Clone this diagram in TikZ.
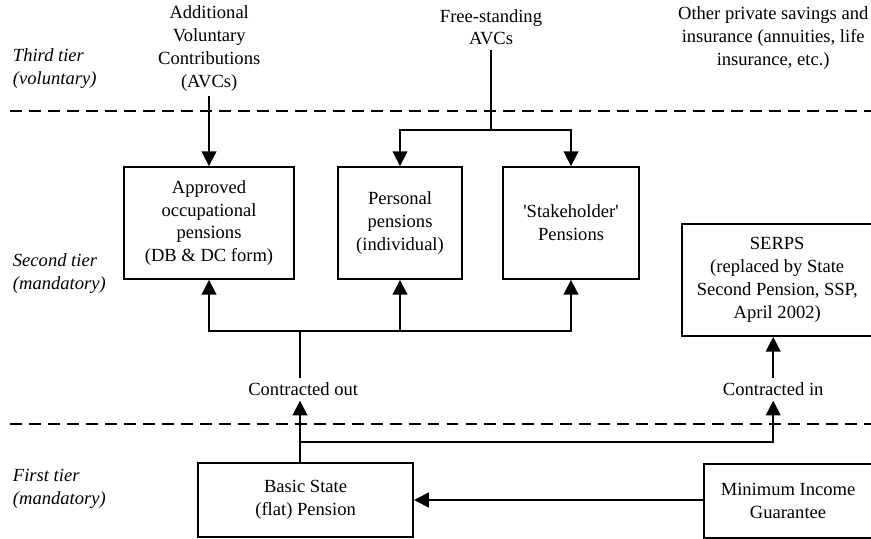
\documentclass[tikz,border=0pt]{standalone}
\usepackage{fontspec}
\setmainfont{Liberation Serif}
\usetikzlibrary{shapes,arrows.meta,positioning}

\tikzset{
    pbox/.style={draw, line width=1.3pt, align=center, inner sep=0pt},
    flow/.style={line width=1.3pt, -{Triangle[length=10.5pt, width=10.5pt]}},
    link/.style={line width=1.3pt},
    tierline/.style={line width=1.6pt, dash pattern=on 8.5pt off 5pt},
    tier/.style={align=left, anchor=west, font=\fontsize{13.2}{16.3}\selectfont\itshape}
}

\begin{document}
\begin{tikzpicture}[every node/.style={align=center, font=\fontsize{13.2}{16.3}\selectfont}]
        \useasboundingbox (0,0) rectangle (21.775,13.45);

        % tier borders
        \draw[tierline] (0.25,10.675) -- (21.775,10.675);
        \draw[tierline] (0.25,2.85) -- (21.775,2.85);

        % tier labels
        \node[tier] (third) at (0.2,11.74) {Third tier\\(voluntary)};
        \node[tier] (second) at (0.2,6.62) {Second tier\\(mandatory)};
        \node[tier] (first) at (0.2,1.22) {First tier\\(mandatory)};

        % third tier
        \node (avc) at (5.23,12.24) {Additional\\Voluntary\\Contributions\\(AVCs)};
        \node (freeavc) at (12.275,12.77) {Free-standing\\AVCs};
        \node (private) at (19.33,12.5) {Other private savings and\\insurance (annuities, life\\insurance, etc.)};

        % second tier
        \node[pbox, minimum width=4.25cm, minimum height=2.8cm] (occupational) at (5.225,7.875) {Approved\\occupational\\pensions\\(DB \& DC form)};
        \node[pbox, minimum width=3.1cm, minimum height=2.8cm] (personal) at (10.0,7.875) {Personal\\pensions\\(individual)};
        \node[pbox, minimum width=3.4cm, minimum height=2.8cm] (stakeholder) at (14.275,7.875) {\textquotesingle Stakeholder\textquotesingle\\Pensions};
        \node[pbox, minimum width=4.75cm, minimum height=2.8cm] (serps) at (19.43,6.45) {SERPS\\(replaced by State\\Second Pension, SSP,\\April 2002)};

        \node (cout) at (7.58,3.72) {Contracted out};
        \node (cin) at (19.33,3.72) {Contracted in};

        % first tier
        \node[pbox, minimum width=5.375cm, minimum height=1.85cm] (basic) at (7.64,0.95) {Basic State\\(flat) Pension};
        \node[pbox, minimum width=4.2cm, minimum height=1.85cm] (mig) at (19.7,0.93) {Minimum Income\\Guarantee};

        \coordinate (split) at (12.275,10.2);
        \coordinate (join) at (7.5,5.175);
        \coordinate (fork) at (7.5,2.4);

        \draw[flow] (avc.south -| occupational.north) -- (occupational.north);
        \draw[link] (freeavc.south) -- (split);
        \draw[flow] (split) -| (personal.north);
        \draw[flow] (split) -| (stakeholder.north);

        \draw[link] (cout.north -| join) -- (join);
        \draw[flow] (join) -| (occupational.south);
        \draw[flow] (join) -| (personal.south);
        \draw[flow] (join) -| (stakeholder.south);

        \draw[flow] (basic.north -| join) -- (cout.south -| join);
        \draw[flow] (fork) -| (cin.south);
        \draw[flow] (cin.north) -- (cin.north |- serps.south);
        \draw[flow] (mig.west |- basic.east) -- (basic.east);
    \end{tikzpicture}
\end{document}
